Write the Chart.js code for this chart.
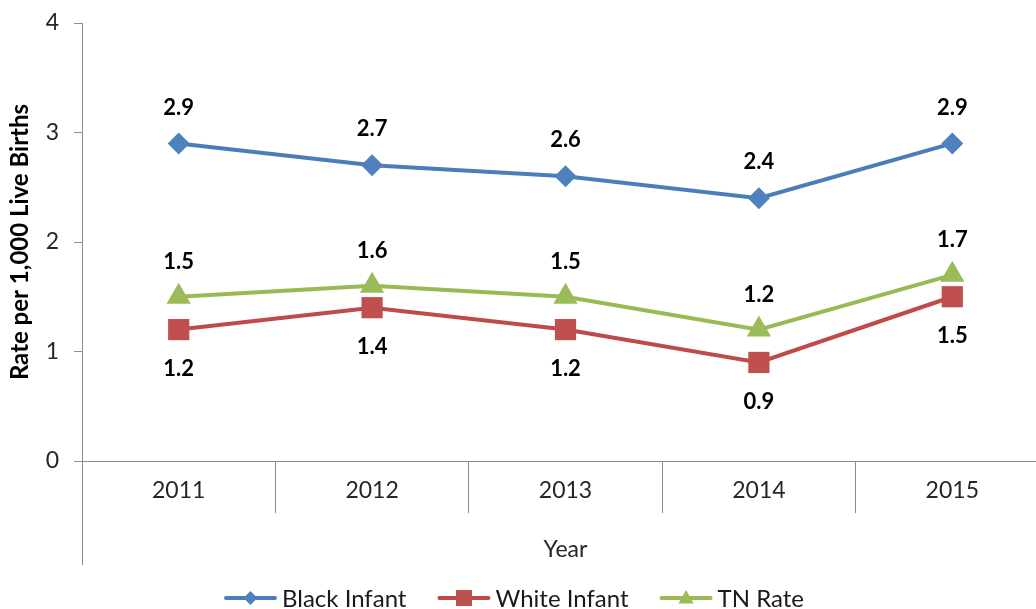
<!DOCTYPE html>
<html>
<head>
<meta charset="utf-8">
<title>Infant rate by year</title>
<script src="https://cdn.jsdelivr.net/npm/chart.js@4.4.0/dist/chart.umd.min.js"></script>
<style>
  html, body { margin: 0; padding: 0; background: #ffffff; overflow: hidden; }
  canvas { display: block; }
</style>
</head>
<body>
<canvas id="chart" width="1064" height="609"></canvas>
<script>
// chart data
const years = ['2011', '2012', '2013', '2014', '2015'];
const blackInfant = [2.9, 2.7, 2.6, 2.4, 2.9];
const whiteInfant = [1.2, 1.4, 1.2, 0.9, 1.5];
const tnRate = [1.5, 1.6, 1.5, 1.2, 1.7];
const seriesNames = ['Black Infant', 'White Infant', 'TN Rate'];
const yMin = 0, yMax = 4, yStep = 1;

const FONT = 'Lato, "Open Sans", sans-serif';
const AXIS_GREY = '#8c8c8c';

const colors = [
    { line: '#4a7ebb', fill: '#4f81bd', style: 'rectRot', radius: 11, labelDy: -36 },
    { line: '#be4b48', fill: '#c0504d', style: 'rect', radius: 15, labelDy: 39 },
    { line: '#98b954', fill: '#9bbb59', style: 'triangle', radius: 14, labelDy: -35 }
];
const seriesValues = [blackInfant, whiteInfant, tnRate];

// value labels next to each point
const valueLabels = {
    id: 'valueLabels',
    afterDatasetsDraw(chart) {
        const ctx = chart.ctx;
        ctx.save();
        ctx.font = 'bold 22px ' + FONT;
        ctx.fillStyle = '#000';
        ctx.textAlign = 'center';
        ctx.textBaseline = 'middle';
        chart.data.datasets.forEach((ds, i) => {
            chart.getDatasetMeta(i).data.forEach((pt, j) => {
                ctx.fillText(ds.data[j].toFixed(1), pt.x, pt.y + colors[i].labelDy);
            });
        });
        ctx.restore();
    }
};

// Excel style frame bits: y axis running down past the labels, and the legend
function drawMarker(ctx, style, x, y, r) {
    ctx.beginPath();
    if (style === 'rectRot') {
        ctx.moveTo(x - r, y); ctx.lineTo(x, y - r); ctx.lineTo(x + r, y); ctx.lineTo(x, y + r);
    } else if (style === 'rect') {
        ctx.rect(x - r, y - r, 2 * r, 2 * r);
    } else {
        ctx.moveTo(x, y - r); ctx.lineTo(x + r * 0.95, y + r * 0.7); ctx.lineTo(x - r * 0.95, y + r * 0.7);
    }
    ctx.closePath();
    ctx.fill();
}

const frameAndLegend = {
    id: 'frameAndLegend',
    afterDraw(chart) {
        const ctx = chart.ctx;
        const xs = chart.scales.x;
        ctx.save();
        ctx.strokeStyle = AXIS_GREY;
        ctx.lineWidth = 1;
        ctx.beginPath();
        ctx.moveTo(xs.left + 0.5, xs.top);
        ctx.lineTo(xs.left + 0.5, xs.bottom);
        ctx.stroke();

        // legend
        ctx.font = '24px ' + FONT;
        ctx.textBaseline = 'middle';
        ctx.textAlign = 'left';
        const lineLen = 53, textGap = 5, itemGap = 31;
        const widths = seriesNames.map(n => lineLen + textGap + ctx.measureText(n).width);
        const total = widths.reduce((a, b) => a + b, 0) + itemGap * (widths.length - 1);
        let x = 514 - total / 2;
        const y = 598;
        const markerSizes = [7, 8, 8];
        seriesNames.forEach((name, i) => {
            ctx.strokeStyle = colors[i].line;
            ctx.lineWidth = 4;
            ctx.lineCap = 'round';
            ctx.beginPath();
            ctx.moveTo(x + 2, y);
            ctx.lineTo(x + lineLen - 2, y);
            ctx.stroke();
            ctx.fillStyle = colors[i].fill;
            drawMarker(ctx, colors[i].style, x + lineLen / 2, y, markerSizes[i]);
            ctx.fillStyle = '#1a1a1a';
            ctx.fillText(name, x + lineLen + textGap, y + 1);
            x += widths[i] + itemGap;
        });
        ctx.restore();
    }
};

const datasets = seriesNames.map((name, i) => ({
    label: name,
    data: seriesValues[i],
    borderColor: colors[i].line,
    backgroundColor: colors[i].fill,
    pointBackgroundColor: colors[i].fill,
    pointBorderColor: colors[i].fill,
    pointBorderWidth: 0,
    pointStyle: colors[i].style,
    pointRadius: colors[i].radius,
    pointHoverRadius: colors[i].radius,
    borderWidth: 4,
    tension: 0
}));

new Chart(document.getElementById('chart').getContext('2d'), {
    type: 'line',
    data: { labels: years, datasets: datasets },
    options: {
        responsive: false,
        animation: false,
        layout: { padding: { top: 23, right: 0, bottom: 44, left: 0 } },
        plugins: {
            legend: { display: false },
            tooltip: { enabled: false }
        },
        scales: {
            x: {
                offset: true,
                afterFit: s => { s.height = 104; },
                border: { color: AXIS_GREY },
                grid: {
                    offset: true,
                    drawOnChartArea: false,
                    drawTicks: true,
                    tickLength: 52,
                    color: AXIS_GREY
                },
                ticks: {
                    padding: -36,
                    color: '#262626',
                    font: { family: FONT, size: 23 }
                },
                title: {
                    display: true,
                    text: 'Year',
                    color: '#262626',
                    font: { family: FONT, size: 23 },
                    padding: { top: 0, bottom: 2 }
                }
            },
            y: {
                min: yMin,
                max: yMax,
                afterFit: s => { s.width = 82; s.paddingTop = 0; s.paddingBottom = 0; },
                border: { color: AXIS_GREY },
                grid: {
                    drawOnChartArea: false,
                    drawTicks: true,
                    tickLength: 8,
                    color: AXIS_GREY
                },
                ticks: {
                    stepSize: yStep,
                    padding: 15,
                    color: '#262626',
                    font: { family: FONT, size: 23 }
                },
                title: {
                    display: true,
                    text: 'Rate per 1,000 Live Births',
                    color: '#000',
                    font: { family: FONT, size: 24, weight: 'bold' },
                    padding: { top: 6, bottom: 0 }
                }
            }
        }
    },
    plugins: [valueLabels, frameAndLegend]
});
</script>
</body>
</html>
